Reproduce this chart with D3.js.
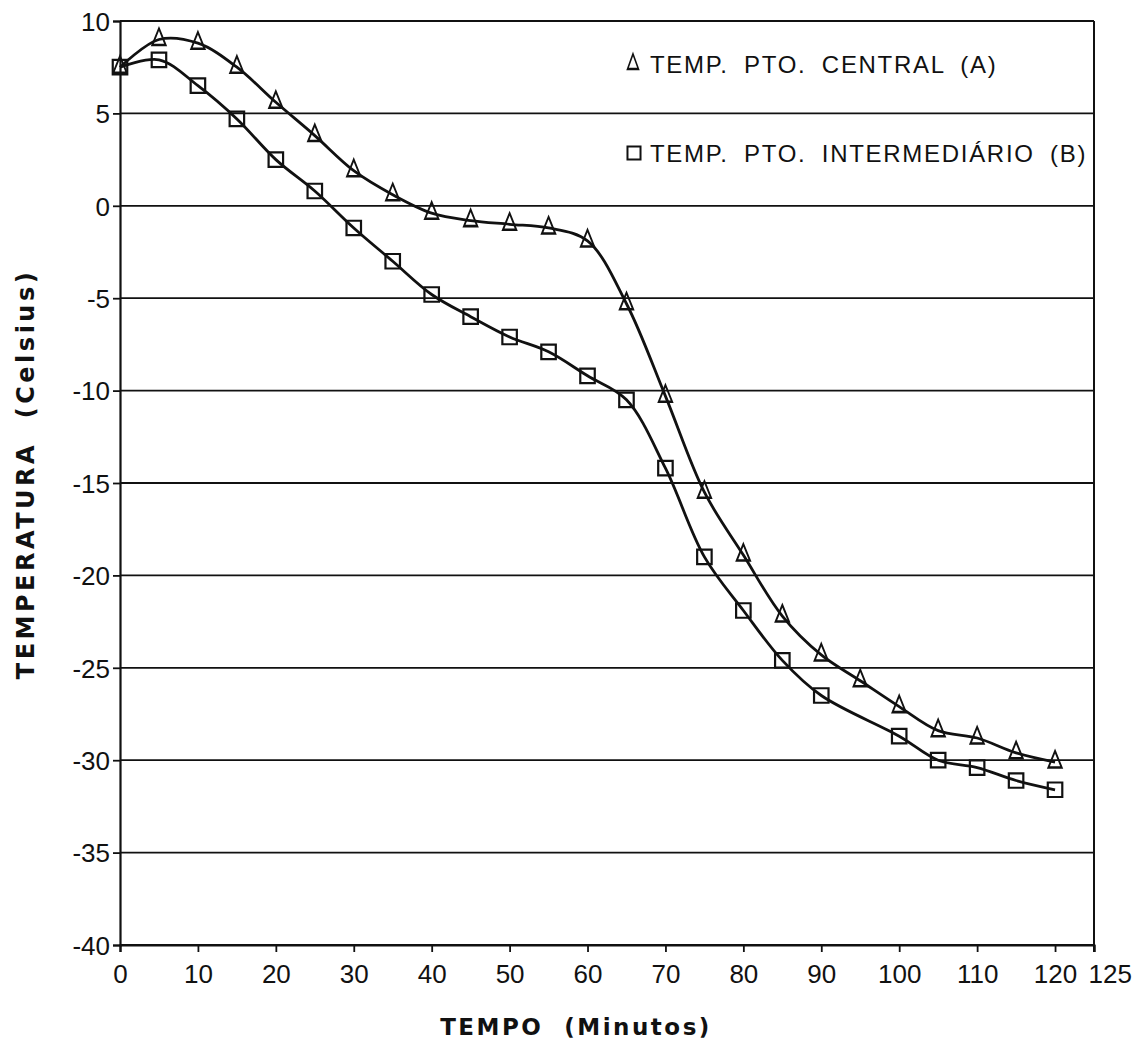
<!DOCTYPE html>
<html>
<head>
<meta charset="utf-8">
<script src="https://cdn.jsdelivr.net/npm/d3@7"></script>
<style>
  html, body { margin: 0; padding: 0; background: #fff; }
  svg { display: block; }
  .tick-label { font-family: "Liberation Sans", Arial, sans-serif; font-size: 26px; fill: #111; }
  .legend-text { font-family: "Liberation Sans", Arial, sans-serif; font-size: 24px; fill: #111; letter-spacing: 1.7px; word-spacing: 7px; }
  .axis-title { font-family: "DejaVu Sans", sans-serif; font-weight: bold; font-size: 23px; fill: #111; letter-spacing: 2.5px; }
  .axis-title-y { font-family: "DejaVu Sans", sans-serif; font-weight: bold; font-size: 24px; fill: #111; letter-spacing: 3.5px; }
</style>
</head>
<body>
<svg id="chart" width="1145" height="1042"></svg>
<script>
// Time in minutes for each reading
const minutes = [0, 5, 10, 15, 20, 25, 30, 35, 40, 45, 50, 55, 60,
                 65, 70, 75, 80, 85, 90, 95, 100, 105, 110, 115, 120];
// Central point temperature (A), °C
const tempCentral = [7.5, 9.0, 8.8, 7.5, 5.6, 3.8, 1.9, 0.6, -0.4, -0.8, -1.0, -1.2, -1.9,
                     -5.3, -10.3, -15.5, -18.9, -22.2, -24.3, -25.7, -27.1, -28.4, -28.8, -29.6, -30.1];
// Intermediate point temperature (B), °C (no reading at 95 min)
const tempIntermediate = [7.5, 7.9, 6.5, 4.7, 2.5, 0.8, -1.2, -3.0, -4.8, -6.0, -7.1, -7.9, -9.2,
                          -10.5, -14.2, -19.0, -21.9, -24.6, -26.5, null, -28.7, -30.0, -30.4, -31.1, -31.6];
// Axis ticks
const xTicks = [0, 10, 20, 30, 40, 50, 60, 70, 80, 90, 100, 110, 120, 125];
const yTicks = [10, 5, 0, -5, -10, -15, -20, -25, -30, -35, -40];
const legendLabels = ["TEMP. PTO. CENTRAL (A)", "TEMP. PTO. INTERMEDIÁRIO (B)"];

const svg = d3.select("#chart");
const plotLeft = 120, plotRight = 1094, plotTop = 21, plotBottom = 945;

const x = d3.scaleLinear().domain([0, 125]).range([plotLeft, plotRight]);
const y = d3.scaleLinear().domain([-40, 10]).range([plotBottom, plotTop]);

// Horizontal grid lines across the plot
svg.append("g")
  .selectAll("line")
  .data(yTicks)
  .join("line")
  .attr("x1", plotLeft).attr("x2", plotRight)
  .attr("y1", d => y(d)).attr("y2", d => y(d))
  .attr("stroke", "#111").attr("stroke-width", 1.8);

// Left axis with outer ticks
const yAxis = d3.axisLeft(y).tickValues(yTicks).tickSize(7).tickPadding(3)
  .tickFormat(d => d < 0 ? "-" + Math.abs(d) : String(d));
const gy = svg.append("g").attr("transform", `translate(${plotLeft},0)`).call(yAxis);
gy.select(".domain").attr("stroke", "#111").attr("stroke-width", 2.2);
gy.selectAll(".tick line").attr("stroke", "#111").attr("stroke-width", 1.8);
gy.selectAll(".tick text").attr("class", "tick-label").attr("dy", "0.36em");

// Right border
svg.append("line")
  .attr("x1", plotRight).attr("x2", plotRight).attr("y1", plotTop).attr("y2", plotBottom + 7)
  .attr("stroke", "#111").attr("stroke-width", 2);

// Bottom axis with ticks pointing down
const xAxis = d3.axisBottom(x).tickValues(xTicks).tickSize(7).tickPadding(13)
  .tickFormat(d3.format("d"));
const gx = svg.append("g").attr("transform", `translate(0,${plotBottom})`).call(xAxis);
gx.select(".domain").attr("stroke", "#111").attr("stroke-width", 2.2);
gx.selectAll(".tick line").attr("stroke", "#111").attr("stroke-width", 1.8);
gx.selectAll(".tick text").attr("class", "tick-label");
// The end label sits just right of the border tick
gx.selectAll(".tick text").filter(d => d === 125)
  .attr("text-anchor", "start").attr("x", -6);

// Series
const series = [
  { name: legendLabels[0], values: tempCentral, symbol: d3.symbolTriangle },
  { name: legendLabels[1], values: tempIntermediate, symbol: d3.symbolSquare }
];

const line = d3.line()
  .x(d => x(d.t)).y(d => y(d.v))
  .curve(d3.curveCatmullRom.alpha(0.5));

series.forEach(s => {
  const pts = minutes.map((t, i) => ({ t, v: s.values[i] })).filter(d => d.v !== null);
  svg.append("path")
    .datum(pts)
    .attr("d", line)
    .attr("fill", "none")
    .attr("stroke", "#111")
    .attr("stroke-width", 2.8);

  const isTri = s.symbol === d3.symbolTriangle;
  const sym = d3.symbol().type(s.symbol).size(isTri ? 120 : 210);

  svg.append("g")
    .selectAll("path")
    .data(pts)
    .join("path")
    .attr("transform", d => isTri
      ? `translate(${x(d.t)},${y(d.v)}) scale(0.8,1.15)`
      : `translate(${x(d.t)},${y(d.v)})`)
    .attr("d", sym)
    .attr("fill", "none")
    .attr("stroke", "#111")
    .attr("stroke-width", 2.2);
});

// Legend
const legend = svg.append("g");
series.forEach((s, i) => {
  const ly = 64 + i * 89;
  const isTri = s.symbol === d3.symbolTriangle;
  const sym = d3.symbol().type(s.symbol).size(isTri ? 90 : 170);
  legend.append("path")
    .attr("transform", isTri ? `translate(633,${ly}) scale(0.75,1.2)` : `translate(634,${ly})`)
    .attr("d", sym)
    .attr("fill", "none")
    .attr("stroke", "#111")
    .attr("stroke-width", 2);
  legend.append("text")
    .attr("class", "legend-text")
    .attr("x", 650).attr("y", ly + 9)
    .text(s.name);
});

// Axis titles
svg.append("text")
  .attr("class", "axis-title")
  .attr("x", 576).attr("y", 1035)
  .attr("text-anchor", "middle")
  .attr("xml:space", "preserve")
  .text("TEMPO  (Minutos)");

svg.append("text")
  .attr("class", "axis-title-y")
  .attr("transform", "translate(34,474) rotate(-90)")
  .attr("text-anchor", "middle")
  .attr("xml:space", "preserve")
  .text("TEMPERATURA  (Celsius)");
</script>
</body>
</html>
